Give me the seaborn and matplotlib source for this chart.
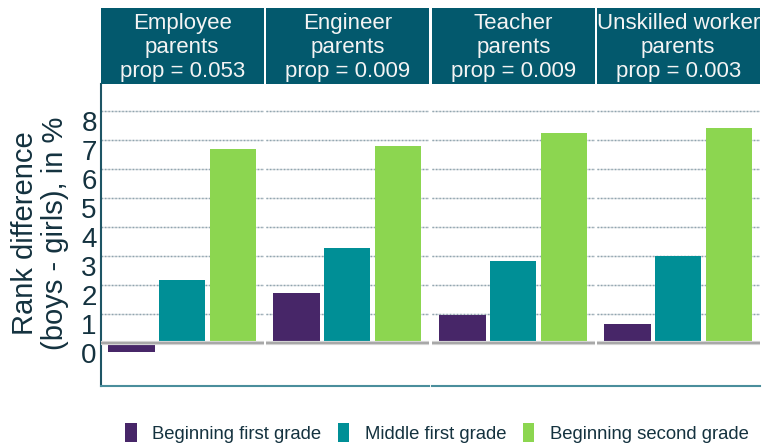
import numpy as np
import pandas as pd
import matplotlib
matplotlib.use("Agg")
import matplotlib.pyplot as plt
import seaborn as sns
from matplotlib.patches import Patch

# data
occupations = ["Employee\nparents\nprop = 0.053",
               "Engineer\nparents\nprop = 0.009",
               "Teacher\nparents\nprop = 0.009",
               "Unskilled worker\nparents\nprop = 0.003"]
timepoints = ["Beginning first grade", "Middle first grade", "Beginning second grade"]
beginning_first = [-0.29, 1.73, 0.98, 0.67]
middle_first = [2.18, 3.29, 2.84, 3.01]
beginning_second = [6.70, 6.80, 7.25, 7.42]
yticks = [0, 1, 2, 3, 4, 5, 6, 7, 8]

colors = ["#472668", "#008F96", "#8CD650"]
strip_color = "#03596D"
text_color = "#14323F"

rows = []
for i, occ in enumerate(occupations):
    for t, vals in zip(timepoints, [beginning_first, middle_first, beginning_second]):
        rows.append({"occupation": occ, "time": t, "value": vals[i]})
df = pd.DataFrame(rows)

sns.set_style("white")
plt.rcParams["font.family"] = ["Liberation Sans", "DejaVu Sans"]

W, H = 762, 447
fig = plt.figure(figsize=(W / 100, H / 100), dpi=100)

# panel geometry in pixels
lefts = [101, 266, 432, 597]
pw = 162.5
ax_top, ax_bot = 84, 386
strip_top = 8

for i, occ in enumerate(occupations):
    ax = fig.add_axes([lefts[i] / W, 1 - ax_bot / H, pw / W, (ax_bot - ax_top) / H])
    sub = df[df["occupation"] == occ]
    sns.barplot(data=sub, x="time", y="value", hue="time", order=timepoints,
                hue_order=timepoints, palette=colors, width=0.91, legend=False,
                saturation=1, errorbar=None, linewidth=0, edgecolor="none",
                ax=ax, zorder=3)
    ax.set_xlim(-0.6, 2.6)
    ax.set_ylim(-1.47, 8.94)
    ax.set_xlabel("")
    ax.set_ylabel("")
    ax.set_xticks([])
    ax.set_yticks(yticks)
    # grid: light solid line with a dotted overlay
    for y in yticks[1:]:
        ax.axhline(y, color="#D3DADD", lw=1.0, zorder=1)
        ax.axhline(y, color="#8FA3AE", lw=1.0, ls=(0, (1, 1.5)), zorder=1.5)
    ax.axhline(0, color="#D5D5D5", lw=3, zorder=4)
    ax.axhline(0, color="#A8A8A8", lw=1.5, zorder=4.5)
    for s in ["top", "right", "left"]:
        ax.spines[s].set_visible(False)
    ax.spines["bottom"].set_color("#4A8E9C")
    ax.spines["bottom"].set_linewidth(1.5)
    ax.tick_params(axis="both", length=0)
    if i == 0:
        ax.spines["left"].set_visible(True)
        ax.spines["left"].set_color("#1E5565")
        ax.spines["left"].set_linewidth(1.5)
        ax.set_yticklabels([str(v) for v in yticks], fontsize=20, color=text_color)
        for lab in ax.get_yticklabels():
            lab.set_va("top")
        ax.tick_params(axis="y", pad=3)
    else:
        ax.set_yticklabels([])

    # facet strip
    sax = fig.add_axes([lefts[i] / W, 1 - ax_top / H, pw / W, (ax_top - strip_top) / H])
    sax.set_facecolor(strip_color)
    sax.set_xticks([])
    sax.set_yticks([])
    for s in sax.spines.values():
        s.set_visible(False)
    sax.text(0.5, 0.48, occ, ha="center", va="center", color="#F4F4F4",
             fontsize=16, linespacing=1.2, transform=sax.transAxes, clip_on=False)

fig.text(0.052, 0.479, "Rank difference\n(boys - girls), in %", rotation=90,
         ha="center", va="center", fontsize=21, color=text_color,
         multialignment="center", linespacing=1.1)

handles = [Patch(facecolor=c, edgecolor="none") for c in colors]
fig.legend(handles, timepoints, loc="center", bbox_to_anchor=(437 / W, 1 - 433 / H),
           ncol=3, frameon=False, fontsize=13.3, labelcolor=text_color,
           handlelength=0.6, handleheight=1.2, handletextpad=0.85, columnspacing=0.9)

fig.savefig("out.png", dpi=100)
